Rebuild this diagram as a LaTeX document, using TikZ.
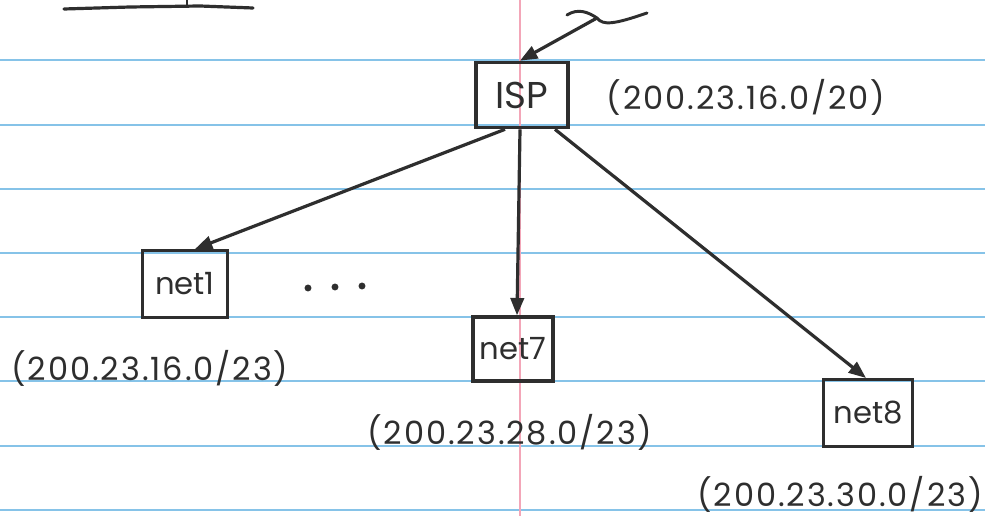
\documentclass[tikz,border=0pt]{standalone}
\usepackage{fontspec}
\setmainfont{Poppins}
\usetikzlibrary{arrows.meta,calc}
\definecolor{ink}{HTML}{2E2E2E}
\definecolor{ruleblue}{HTML}{86C3E8}
\definecolor{marginred}{HTML}{F3A6B8}
\tikzset{
  netbox/.style={draw=ink, line width=2.5pt, rectangle, inner sep=0pt, font=\fontsize{23}{25}\selectfont, text=ink},
  addr/.style={inner sep=0pt, font=\addfontfeatures{LetterSpace=6}\fontsize{24}{26}\selectfont, text=ink},
  link/.style={draw=ink, line width=2.4pt, -{Triangle[length=13pt,width=10pt]}},
  paperline/.style={draw=ruleblue, line width=1.3pt},
  margin/.style={draw=marginred, line width=0.9pt},
  scribble/.style={draw=ink, line width=2.4pt, line cap=round, line join=round}
}
\begin{document}
\begin{tikzpicture}[x=0.75pt,y=-0.75pt]
\useasboundingbox[fill=white] (0,0) rectangle (985,516);
% ruled paper
\foreach \yy in {60,125,189,253,317,381,446,510}
  \draw[paperline] (0,\yy) -- (985,\yy);
\draw[margin] (520,0) -- (520,516);
% title underline
\draw[scribble] (64,9) -- (130,7) -- (200,6) -- (253,8);
\draw[scribble, line width=1.5pt] (187,0) -- (187,5);
% nodes
\node[netbox, minimum width=69pt, minimum height=49pt, font=\fontsize{28}{30}\selectfont] (ISP) at (522,95) {ISP};
\node[netbox, minimum width=64pt, minimum height=50pt] (net1) at (185,284) {net1};
\node[netbox, minimum width=60pt, minimum height=48pt] (net7) at (513,349) {net7};
\node[netbox, minimum width=67pt, minimum height=50pt] (net8) at (868,413) {net8};
% labels
\node[addr] (lISP) at (746,97) {(200.23.16.0/20)};
\node[addr] (l1) at (150,368) {(200.23.16.0/23)};
\node[addr] (l7) at (510,432) {(200.23.28.0/23)};
\node[addr] (l8) at (840,494) {(200.23.30.0/23)};
% dots
\fill[ink] (308,288) circle (2.6pt) (335,287) circle (2.6pt) (362,286) circle (2.6pt);
% incoming squiggle arrow
\coordinate (sq) at (597,18);
\draw[scribble, line width=2.2pt] (567,15) .. controls (578,8) and (588,12) .. (sq) .. controls (603,26) and (615,24) .. (647,13);
\draw[link] (sq) -- ($(ISP.north)+(-2,0)$);
% connectors
\draw[link] ($(ISP.south)+(-17,0)$) -- ($(net1.north)+(10,0)$);
\draw[link] ($(ISP.south)+(-2,0)$) -- ($(net7.north)+(4,0)$);
\draw[link] ($(ISP.south)+(33,0)$) -- ($(net8.north)+(-2,0)$);
\end{tikzpicture}
\end{document}
